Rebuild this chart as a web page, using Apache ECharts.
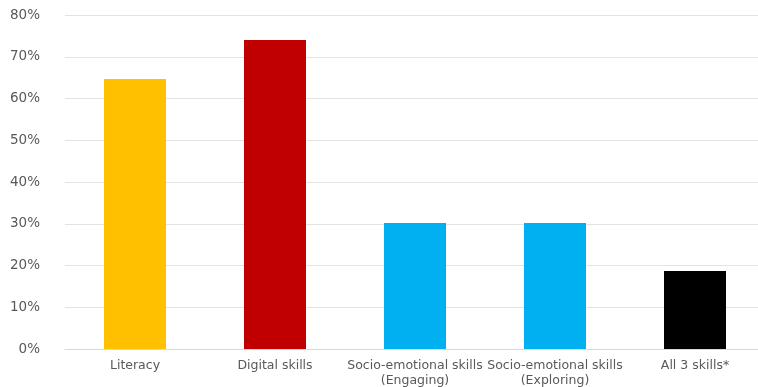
<!DOCTYPE html>
<html>
<head>
<meta charset="utf-8">
<script src="https://cdn.jsdelivr.net/npm/echarts@6/dist/echarts.min.js"></script>
<style>
  html, body { margin: 0; padding: 0; background: #ffffff; }
  #chart { width: 758px; height: 387px; }
</style>
</head>
<body>
<div id="chart"></div>
<script>
// Share of respondents with each skill (percent)
const categories = [
  'Literacy',
  'Digital skills',
  'Socio-emotional skills\n(Engaging)',
  'Socio-emotional skills\n(Exploring)',
  'All 3 skills*'
];
const values = [64.7, 74.0, 30.2, 30.2, 18.7];
const barColors = ['#FFC000', '#C00000', '#00B0F0', '#00B0F0', '#000000'];
const yTicks = { min: 0, max: 80, step: 10 };

const chart = echarts.init(document.getElementById('chart'), null, { renderer: 'canvas' });
const textColor = '#595959';
const fontFamily = '"DejaVu Sans", "Open Sans", sans-serif';

chart.setOption({
  animation: false,
  backgroundColor: '#ffffff',
  grid: { left: 65, top: 15, bottom: 38, width: 700, outerBoundsMode: 'none', containLabel: false },
  xAxis: {
    type: 'category',
    data: categories,
    axisLine: { lineStyle: { color: '#d9d9d9', width: 1 } },
    axisTick: { show: false },
    axisLabel: {
      interval: 0,
      color: textColor,
      fontFamily: fontFamily,
      fontSize: 12.5,
      lineHeight: 15,
      margin: 9
    }
  },
  yAxis: {
    type: 'value',
    min: yTicks.min,
    max: yTicks.max,
    interval: yTicks.step,
    axisLine: { show: false },
    axisTick: { show: false },
    splitLine: { lineStyle: { color: '#e3e3e3', width: 1 } },
    axisLabel: {
      color: textColor,
      fontFamily: fontFamily,
      fontSize: 13.5,
      margin: 25,
      formatter: v => v + '%'
    }
  },
  series: [{
    type: 'bar',
    barWidth: 62,
    data: values.map((v, i) => ({ value: v, itemStyle: { color: barColors[i] } }))
  }]
});
</script>
</body>
</html>
